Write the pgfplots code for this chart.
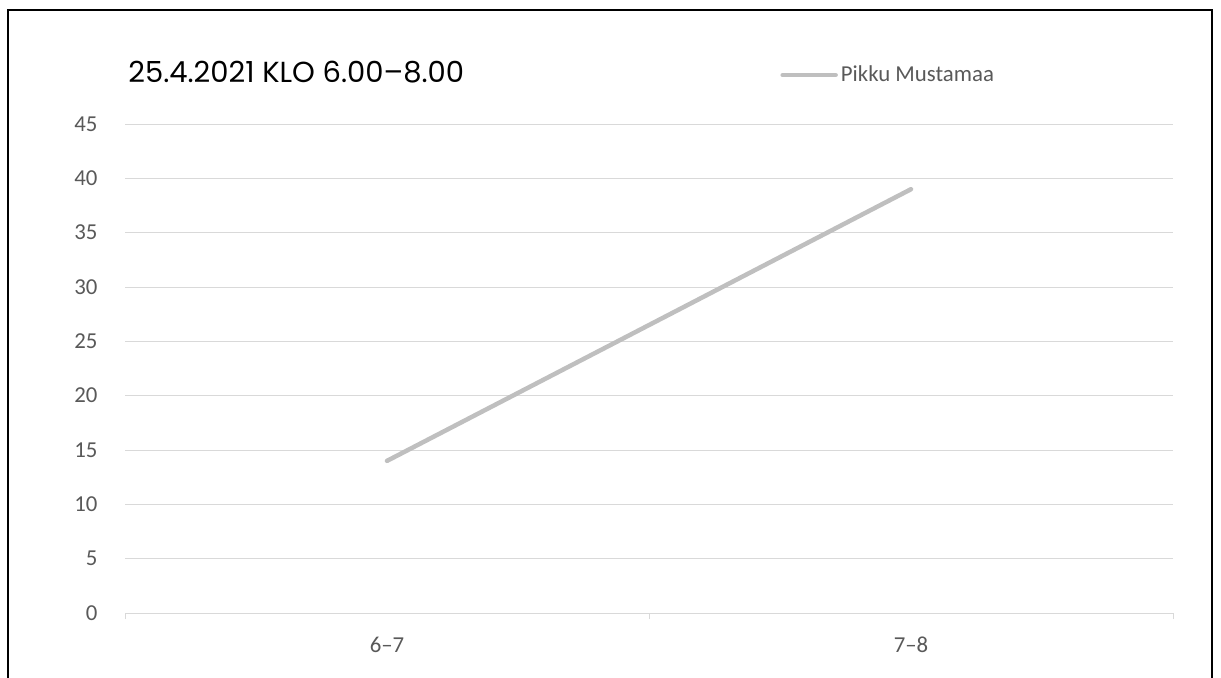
\documentclass[border=0pt]{standalone}
\usepackage{fontspec}
\setmainfont{Carlito}
\newfontfamily\titlefont{Poppins}
\usepackage{pgfplots}
\pgfplotsset{compat=1.18}
\definecolor{gridc}{HTML}{D9D9D9}
\definecolor{txt}{HTML}{595959}
\definecolor{linec}{HTML}{BFBFBF}
\begin{document}
\begin{tikzpicture}
\useasboundingbox (0pt,0pt) rectangle (610.5pt,338.5pt);
\draw[line width=1pt] (4pt,-2pt) -- (4pt,333.5pt) -- (606pt,333.5pt) -- (606pt,-2pt);
\begin{axis}[
  at={(62.5pt,32pt)}, anchor=south west,
  width=524pt, height=244.5pt, scale only axis,
  xmin=-0.5, xmax=1.5, ymin=0, ymax=45,
  xtick={0,1}, xticklabels={6–7,7–8},
  minor xtick={-0.5,0.5,1.5},
  ytick={0,5,...,45},
  ymajorgrids,
  grid style={gridc, line width=0.5pt},
  axis lines*=left,
  x axis line style={gridc, line width=0.5pt},
  y axis line style={draw=none},
  major tick style={draw=none},
  minor tick style={gridc, line width=0.5pt},
  minor tick length=3pt,
  tick align=outside,
  xticklabel style={font=\fontsize{11.4}{13}\selectfont, text=txt, yshift=-4pt},
  yticklabel style={font=\fontsize{11.4}{13}\selectfont, text=txt, xshift=-6pt},
  /pgf/number format/assume math mode=true,
  legend style={at={(0.625,1.1)}, anchor=west, draw=none, fill=none,
    font=\fontsize{11.4}{13}\selectfont, text=txt, inner sep=0pt,
    nodes={inner sep=1.5pt}},
  legend image code/.code={\draw[#1] (0pt,0pt) -- (26.5pt,0pt);},
]
\addplot[linec, line width=2.25pt, line cap=round] coordinates {(0,14) (1,39)};
\legend{Pikku Mustamaa}
\end{axis}
\node[anchor=base west, inner sep=0pt, font=\titlefont\fontsize{14.5}{18}\selectfont] at (64pt,297.5pt) {25.4.2021 KLO 6.00–8.00};
\end{tikzpicture}
\end{document}
